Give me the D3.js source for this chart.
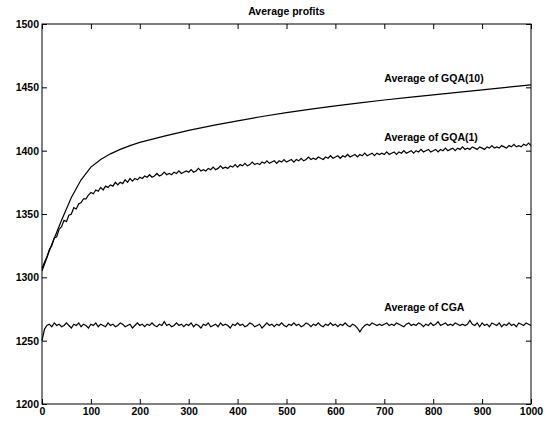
<!DOCTYPE html>
<html>
<head>
<meta charset="utf-8">
<script src="https://cdn.jsdelivr.net/npm/d3@7"></script>
<style>
  body { margin: 0; background: #fff; }
  text { font-family: "Liberation Sans", Arial, sans-serif; font-weight: bold; fill: #000; }
</style>
</head>
<body>
<svg id="chart" width="547" height="424"></svg>
<script>
// generations sampled for the smooth GQA(10) curve
const gqa10Gens = [0,20,40,60,80,100,120,140,160,180,200,250,300,350,400,450,500,550,600,650,700,750,800,850,900,950,1000]
const gqa10 = [1305,1326,1345,1363,1377,1387,1393,1397.5,1401,1404,1406.5,1411.5,1416,1420,1423.5,1427,1430,1432.8,1435.3,1437.7,1440,1442,1444,1446,1448,1450,1452]

// noisy series, one value every 5 generations (0..1000)
const gqa1 = [
  1307,1312,1316,1322,1325,1331,1332,1338,1340,1345,1344,1349,1350,1355,1354,1358,1359,1362,1362,1365,
  1367,1366,1369,1368,1371,1369,1372,1371,1373,1372,1375,1373,1375,1374,1377,1375,1378,1376,1378,1377,
  1379,1378,1380,1379,1381,1379,1380,1382,1380,1381,1383,1381,1382,1381,1383,1382,1384,1382,1383,1384,
  1383,1385,1383,1384,1386,1384,1385,1384,1386,1385,1387,1385,1386,1388,1386,1387,1386,1388,1387,1389,
  1387,1389,1388,1390,1388,1389,1391,1389,1390,1389,1391,1390,1392,1390,1391,1392,1390,1392,1391,1393,
  1391,1392,1393,1391,1393,1392,1394,1392,1393,1395,1393,1394,1393,1395,1394,1393,1395,1394,1396,1394,
  1395,1396,1394,1396,1395,1397,1395,1396,1397,1395,1397,1396,1398,1396,1397,1398,1396,1398,1397,1398,
  1397,1399,1397,1398,1399,1397,1399,1398,1400,1398,1399,1400,1398,1400,1399,1401,1399,1400,1401,1399,
  1400,1401,1399,1401,1400,1402,1400,1401,1402,1400,1402,1401,1403,1401,1402,1401,1403,1402,1401,1403,
  1402,1401,1403,1402,1404,1402,1403,1402,1404,1403,1402,1404,1403,1405,1403,1404,1403,1405,1404,1406,
  1404]
const cga = [
  1250,1259,1262,1263,1261,1264,1262,1263,1261,1262,1264,1262,1260,1263,1262,1264,1261,1263,1262,1260,
  1263,1262,1264,1261,1263,1262,1261,1264,1262,1263,1261,1262,1264,1263,1261,1262,1263,1260,1262,1264,
  1262,1263,1261,1263,1262,1264,1262,1261,1263,1262,1265,1262,1263,1261,1262,1264,1262,1263,1261,1263,
  1262,1264,1261,1263,1262,1260,1263,1262,1264,1261,1262,1263,1261,1264,1262,1263,1262,1260,1263,1262,
  1264,1262,1263,1261,1262,1264,1263,1261,1262,1263,1260,1262,1264,1262,1263,1261,1263,1262,1264,1262,
  1261,1263,1262,1264,1262,1263,1261,1262,1264,1263,1261,1263,1262,1264,1262,1261,1263,1262,1264,1262,
  1263,1261,1263,1262,1264,1262,1261,1263,1262,1260,1257,1260,1262,1263,1262,1264,1263,1262,1263,1262,
  1263,1264,1262,1263,1262,1264,1263,1262,1261,1263,1264,1262,1263,1262,1264,1263,1261,1263,1262,1264,
  1262,1263,1265,1262,1263,1264,1262,1263,1262,1264,1263,1262,1263,1262,1263,1266,1263,1262,1264,1261,
  1264,1262,1263,1261,1264,1263,1262,1264,1261,1263,1262,1264,1262,1263,1261,1264,1263,1262,1264,1263,
  1262]
const noisyGens = d3.range(0, 1001, 5)

const xTicks = [0,100,200,300,400,500,600,700,800,900,1000]
const yTicks = [1200,1250,1300,1350,1400,1450,1500]

const labels = [
  {text: "Average of GQA(10)", gen: 700, val: 1454.5},
  {text: "Average of GQA(1)", gen: 700, val: 1407.5},
  {text: "Average of CGA", gen: 700, val: 1273.5}
]

const W = 547, H = 424
const m = {top: 24, right: 16, bottom: 20, left: 42}

let svg = d3.select("#chart")
let x = d3.scaleLinear().domain([0, 1000]).range([m.left, W - m.right])
let y = d3.scaleLinear().domain([1200, 1500]).range([H - m.bottom, m.top])

//box
svg.append("rect")
  .attr("x", m.left).attr("y", m.top)
  .attr("width", W - m.left - m.right).attr("height", H - m.top - m.bottom)
  .attr("fill", "none").attr("stroke", "#000").attr("stroke-width", 1)

//axes - ticks point inward, matlab style
let styleAxis = (g) => {
  g.select(".domain").remove()
  g.selectAll(".tick line").attr("stroke", "#000")
  g.selectAll(".tick text").attr("font-size", 10.5)
}
svg.append("g").attr("transform", `translate(0,${H - m.bottom})`)
  .call(d3.axisBottom(x).tickValues(xTicks).tickSize(-5).tickPadding(4).tickFormat(d3.format("d")))
  .call(styleAxis)
svg.append("g").attr("transform", `translate(0,${m.top})`)
  .call(d3.axisTop(x).tickValues(xTicks).tickSize(-5).tickFormat(""))
  .call(styleAxis)
svg.append("g").attr("transform", `translate(${m.left},0)`)
  .call(d3.axisLeft(y).tickValues(yTicks).tickSize(-5).tickPadding(3).tickFormat(d3.format("d")))
  .call(styleAxis)
svg.append("g").attr("transform", `translate(${W - m.right},0)`)
  .call(d3.axisRight(y).tickValues(yTicks).tickSize(-5).tickFormat(""))
  .call(styleAxis)

//lines
let line = d3.line().x(d => x(d[0])).y(d => y(d[1]))
let series = [
  gqa10Gens.map((g, i) => [g, gqa10[i]]),
  noisyGens.map((g, i) => [g, gqa1[i]]),
  noisyGens.map((g, i) => [g, cga[i]])
]
svg.append("g").selectAll("path").data(series).enter().append("path")
  .attr("d", line)
  .attr("fill", "none")
  .attr("stroke", "#000")
  .attr("stroke-width", 1.2)

//labels
svg.append("g").selectAll("text").data(labels).enter().append("text")
  .attr("x", d => x(d.gen))
  .attr("y", d => y(d.val))
  .attr("font-size", 10.5)
  .text(d => d.text)

//title
svg.append("text")
  .attr("x", (m.left + W - m.right) / 2)
  .attr("y", 15)
  .attr("text-anchor", "middle")
  .attr("font-size", 10.5)
  .text("Average profits")
</script>
</body>
</html>
